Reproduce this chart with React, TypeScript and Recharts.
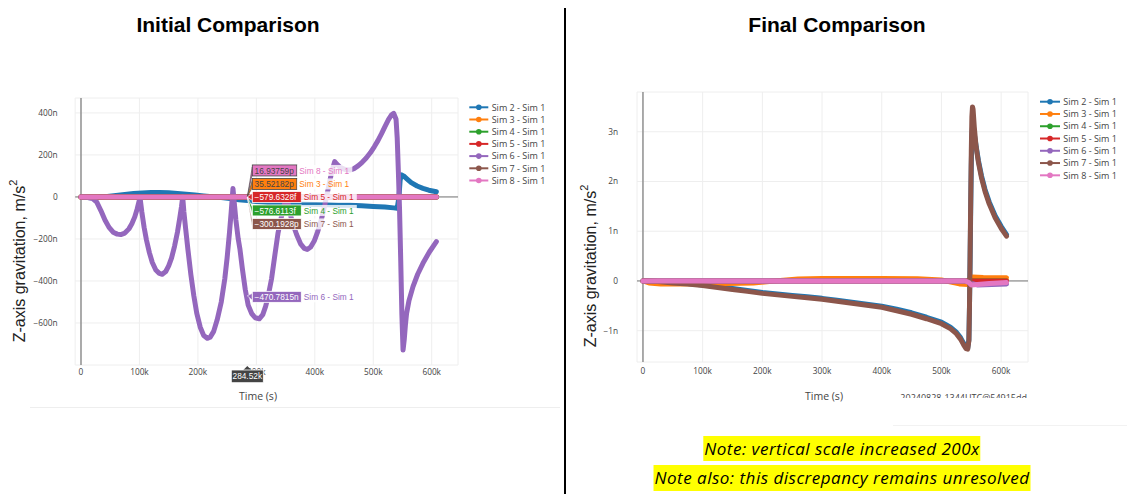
import React from 'react';
import { LineChart, Line, XAxis, YAxis, CartesianGrid, ReferenceLine, ReferenceDot } from 'recharts';

type Pt = [number, number];

// ---------- series meta ----------
const SERIES_NAMES = ['Sim 2 - Sim 1', 'Sim 3 - Sim 1', 'Sim 4 - Sim 1', 'Sim 5 - Sim 1', 'Sim 6 - Sim 1', 'Sim 7 - Sim 1', 'Sim 8 - Sim 1'];
const SERIES_COLORS = ['#1f77b4', '#ff7f0e', '#2ca02c', '#d62728', '#9467bd', '#8c564b', '#e377c2'];

// ---------- ticks ----------
const X_TICKS = [0, 100, 200, 300, 400, 500, 600]; // thousands of seconds
const LEFT_Y_TICKS = [-600, -400, -200, 0, 200, 400]; // n m/s²
const RIGHT_Y_TICKS = [-1, 0, 1, 2, 3]; // n m/s²

// ---------- Initial comparison (t in ks, value in n m/s²) ----------
const leftSim2: Pt[] = [[0,0],[10,-3],[20,-4],[30,-2],[45,2],[60,7],[75,12],[90,16],[105,19],[120,21],[135,21],[150,20],[165,17],[180,13],[195,9],[210,5],[225,1],[240,-3],[255,-8],[270,-13],[285,-17],[300,-22],[320,-27],[340,-30],[360,-32],[380,-34],[400,-36],[420,-37],[440,-39],[460,-40],[480,-42],[500,-45],[520,-48],[535,-52],[541,-54],[544,0],[546,80],[548,105],[552,100],[558,85],[565,68],[575,52],[585,41],[595,32],[608,25]];
const leftSim3: Pt[] = [[0,0],[150,0.02],[300,0.036],[450,0.02],[608,0.01]];
const leftSim4: Pt[] = [[0,0],[300,-0.0006],[608,0]];
const leftSim5: Pt[] = [[0,0],[300,-0.0006],[608,0]];
const leftSim6: Pt[] = [[0,0],[10,-2],[20,-8],[27,-25],[34,-65],[41,-110],[48,-145],[55,-168],[62,-177],[68,-179],[75,-172],[82,-152],[87,-128],[92,-95],[96,-58],[99,-25],[101,-3],
  [104,-70],[108,-145],[112,-205],[117,-265],[122,-312],[128,-348],[134,-364],[139,-368],[145,-355],[150,-328],[155,-290],[160,-235],[165,-168],[169,-100],[172,-45],[174,0],
  [176,-70],[179,-150],[183,-252],[188,-370],[193,-470],[198,-553],[204,-620],[210,-660],[216,-673],[221,-668],[227,-640],[233,-585],[240,-500],[246,-390],[250,-290],[254,-170],[257,-70],[260,40],
  [262,-20],[265,-110],[269,-200],[272,-250],[276,-340],[281,-440],[286,-515],[292,-555],[298,-575],[305,-580],[311,-560],[316,-520],[320,-475],[326,-390],[331,-290],[337,-173],[342,-105],[347,-45],[352,5],
  [357,-70],[362,-125],[369,-180],[376,-225],[382,-245],[387,-250],[393,-238],[399,-210],[405,-165],[411,-110],[417,-40],[423,40],[429,120],[434,168],
  [438,155],[443,142],[448,135],[454,129],[460,128],[467,135],[474,148],[481,165],[488,185],[495,210],[502,240],[508,268],[514,300],[520,335],[526,368],[531,390],[535,398],[539,370],[541,280],[543,120],[545,-60],[547,-300],[549,-560],[551,-729],[553,-680],[555,-610],[557,-555],[561,-495],[568,-427],[576,-368],[585,-316],[596,-262],[608,-213]];
const leftSim7: Pt[] = [[0,0],[150,-0.1],[300,-0.3],[450,-0.2],[608,0]];
const leftSim8: Pt[] = [[0,0],[150,0.01],[300,0.017],[450,0.01],[608,0]];

// ---------- Final comparison (t in ks, value in n m/s²) ----------
const rightSim2: Pt[] = [[0,0],[25,-0.01],[50,-0.03],[75,-0.05],[100,-0.08],[125,-0.11],[150,-0.15],[175,-0.19],[200,-0.23],[225,-0.26],[250,-0.29],[275,-0.32],[300,-0.35],[325,-0.39],[350,-0.43],[375,-0.47],[400,-0.51],[425,-0.57],[450,-0.64],[475,-0.73],[500,-0.83],[515,-0.93],[525,-1.03],[532,-1.14],[537,-1.25],[541,-1.33],[544,-1.35],[546,-1.18],[547,-0.5],[548,0.4],[549,1.4],[550,2.3],[551,2.9],[552,3.1],[553,3.1],[555,2.95],[558,2.72],[562,2.42],[567,2.12],[573,1.84],[580,1.59],[590,1.31],[600,1.1],[609,0.93]];
const rightSim3: Pt[] = [[0,0],[10,-0.04],[30,-0.06],[60,-0.06],[100,-0.055],[140,-0.05],[185,-0.04],[220,0],[260,0.04],[300,0.05],[400,0.05],[460,0.045],[500,0.02],[530,-0.06],[545,-0.07],[548,0.05],[552,0.08],[570,0.07],[609,0.065]];
const rightSim4: Pt[] = [[0,0],[300,0],[609,0]];
const rightSim5: Pt[] = [[0,0],[300,0],[609,0]];
const rightSim6: Pt[] = [[0,0],[300,0],[540,0],[550,-0.05],[560,-0.08],[609,-0.06]];
const rightSim7: Pt[] = [[0,0],[25,-0.01],[50,-0.04],[75,-0.06],[100,-0.09],[125,-0.13],[150,-0.17],[175,-0.21],[200,-0.25],[225,-0.28],[250,-0.31],[275,-0.34],[300,-0.37],[325,-0.41],[350,-0.45],[375,-0.49],[400,-0.53],[425,-0.6],[450,-0.67],[475,-0.76],[500,-0.86],[515,-0.96],[525,-1.06],[532,-1.17],[537,-1.28],[541,-1.36],[544,-1.37],[546,-1.2],[547,-0.5],[548,0.5],[549,1.6],[550,2.6],[551,3.3],[552,3.5],[553,3.45],[555,3.1],[558,2.7],[562,2.38],[567,2.08],[573,1.8],[580,1.55],[590,1.27],[600,1.06],[609,0.9]];
const rightSim8: Pt[] = [[0,0],[300,0],[540,0],[546,-0.03],[550,-0.08],[560,-0.07],[580,-0.05],[609,-0.03]];

const leftSeries = [leftSim2, leftSim3, leftSim4, leftSim5, leftSim6, leftSim7, leftSim8];
const rightSeries = [rightSim2, rightSim3, rightSim4, rightSim5, rightSim6, rightSim7, rightSim8];

// ---------- hover annotation (left chart) ----------
const HOVER_T = 284.52;
const hoverNames = ['Sim 8 - Sim 1', 'Sim 3 - Sim 1', 'Sim 5 - Sim 1', 'Sim 4 - Sim 1', 'Sim 7 - Sim 1'];
const hoverTexts = ['16.93759p', '35.52182p', '\u2212579.6328f', '\u2212576.6113f', '\u2212300.1928p'];
const hoverColorIdx = [6, 1, 3, 2, 5];
const hoverSim6Value = -470.7815;
const hoverSim6Text = '\u2212470.7815n';
const hoverXText = '284.52k';

const NOTE1 = 'Note: vertical scale increased 200x';
const NOTE2 = 'Note also: this discrepancy remains unresolved';
const WATERMARK = '20240828-1344UTC@54915dd';

const toRows = (pts: Pt[]) => pts.map(([t, v]) => ({ t, v }));
const fmtK = (v: number) => (v === 0 ? '0' : `${v}k`);
const fmtN = (v: number) => (v === 0 ? '0' : `${v < 0 ? '\u2212' : ''}${Math.abs(v)}n`);

const isLight = (hex: string) => {
  const r = parseInt(hex.slice(1, 3), 16), g = parseInt(hex.slice(3, 5), 16), b = parseInt(hex.slice(5, 7), 16);
  return 0.299 * r + 0.587 * g + 0.114 * b > 140;
};

const TICK_STYLE = { fontSize: 8.3, fill: '#444', fontFamily: 'Open Sans' };
const HOVER_FONT = 'Liberation Sans, Arial';

function HoverRow({ px, py, rowY, text, name, color }: any) {
  const light = isLight(color);
  const bx = px + 5;
  const w = text.length * 4.5 + 4;
  const h = 11;
  const border = light ? '#444' : '#fff';
  return (
    <g>
      <polygon points={`${px},${py} ${bx},${rowY - 3.5} ${bx},${rowY + 3.5}`} fill={color} stroke={border} strokeWidth={0.6} />
      <rect x={bx} y={rowY - h / 2} width={w} height={h} fill={color} stroke={border} strokeWidth={0.8} />
      <text x={bx + 2.3} y={rowY + 3.1} fontSize={8.3} fontFamily={HOVER_FONT} fill={light ? '#444' : '#fff'}>{text}</text>
      <rect x={bx + w + 0.5} y={rowY - h / 2} width={55} height={h} fill="#fff" fillOpacity={0.8} />
      <text x={bx + w + 2.5} y={rowY + 3.1} fontSize={8.3} fontFamily={HOVER_FONT} fill={color}>{name}</text>
    </g>
  );
}

const ROW_OFFSETS = [-26.5, -13, 0, 13.5, 27];

function HoverStackShape(props: any) {
  const { cx, cy } = props;
  return (
    <g>
      {hoverTexts.map((t, i) => (
        <HoverRow key={i} px={cx} py={cy} rowY={cy + ROW_OFFSETS[i]} text={t} name={hoverNames[i]} color={SERIES_COLORS[hoverColorIdx[i]]} />
      ))}
    </g>
  );
}

function HoverSim6Shape(props: any) {
  const { cx, cy } = props;
  return <HoverRow px={cx} py={cy} rowY={cy + 1} text={hoverSim6Text} name={SERIES_NAMES[4]} color={SERIES_COLORS[4]} />;
}

function HoverXShape(props: any) {
  const { cx, cy } = props;
  const w = 32, h = 12.7, top = cy + 5;
  return (
    <g>
      <polygon points={`${cx},${cy + 1} ${cx - 4},${top} ${cx + 4},${top}`} fill="#444" />
      <rect x={cx - w / 2} y={top} width={w} height={h} fill="#444" stroke="#fff" strokeWidth={0.8} />
      <text x={cx} y={top + h / 2 + 3} textAnchor="middle" fontSize={8.3} fontFamily={HOVER_FONT} fill="#fff">{hoverXText}</text>
    </g>
  );
}

function LegendBlock({ left, top, step, lineW, textX }: { left: number; top: number; step: number; lineW: number; textX: number }) {
  return (
    <svg style={{ position: 'absolute', left: 0, top: 0, pointerEvents: 'none' }} width={1127} height={494}>
      {SERIES_NAMES.map((n, i) => {
        const y = top + i * step;
        return (
          <g key={n}>
            <line x1={left} x2={left + lineW} y1={y} y2={y} stroke={SERIES_COLORS[i]} strokeWidth={2} />
            <circle cx={left + lineW / 2} cy={y} r={2.8} fill={SERIES_COLORS[i]} />
            <text x={textX} y={y + 3.2} fontSize={9} fontFamily="Open Sans" fill="#444">{n}</text>
          </g>
        );
      })}
    </svg>
  );
}

function renderLines(series: Pt[][]) {
  return series.map((s, i) => (
    <Line
      key={SERIES_NAMES[i]}
      data={toRows(s)}
      dataKey="v"
      name={SERIES_NAMES[i]}
      type="linear"
      stroke={SERIES_COLORS[i]}
      strokeWidth={5}
      strokeLinejoin="round"
      strokeLinecap="round"
      dot={false}
      activeDot={false}
      isAnimationActive={false}
    />
  ));
}

const LEFT_MARGIN = { top: 98, right: 107, bottom: 35, left: 35.15 };
const LEFT_X_DOMAIN: [number, number] = [-10, 645];
const LEFT_Y_DOMAIN: [number, number] = [-800, 471];

const NOTE_STYLE: React.CSSProperties = { background: '#ffff00', fontFamily: 'Open Sans', fontStyle: 'italic', fontSize: 17, letterSpacing: 0.5, display: 'inline-block', padding: '0 1px', color: '#000' };

export default function App() {
  return (
    <div style={{ position: 'absolute', left: 0, top: 0, width: 1127, height: 494, background: '#fff', overflow: 'hidden' }}>
      {/* Left chart */}
      <div style={{ position: 'absolute', left: 0, top: 0 }}>
        <LineChart width={565} height={420} margin={LEFT_MARGIN}>
          <CartesianGrid stroke="#eee" strokeWidth={1} />
          <XAxis type="number" dataKey="t" domain={LEFT_X_DOMAIN} ticks={X_TICKS} interval={0} tickFormatter={fmtK} allowDataOverflow axisLine={false} tickLine={false} tickSize={0} tickMargin={4} height={20} tick={TICK_STYLE} />
          <YAxis type="number" domain={LEFT_Y_DOMAIN} ticks={LEFT_Y_TICKS} interval={0} tickFormatter={fmtN} allowDataOverflow axisLine={false} tickLine={false} tickSize={0} tickMargin={17.5} width={40} tick={TICK_STYLE} />
          <ReferenceLine y={0} stroke="#777" strokeWidth={1} />
          <ReferenceLine x={0} stroke="#777" strokeWidth={1.2} />
          {renderLines(leftSeries)}
        </LineChart>
      </div>

      {/* Left chart hover labels (same scales, drawn above the lines) */}
      <div style={{ position: 'absolute', left: 0, top: 0 }}>
        <LineChart width={565} height={420} margin={LEFT_MARGIN}>
          <XAxis type="number" dataKey="t" domain={LEFT_X_DOMAIN} ticks={X_TICKS} allowDataOverflow axisLine={false} tickLine={false} tick={false} height={20} />
          <YAxis type="number" domain={LEFT_Y_DOMAIN} ticks={LEFT_Y_TICKS} allowDataOverflow axisLine={false} tickLine={false} tick={false} width={40} />
          <ReferenceDot x={HOVER_T} y={0} ifOverflow="visible" shape={HoverStackShape} />
          <ReferenceDot x={HOVER_T} y={hoverSim6Value} ifOverflow="visible" shape={HoverSim6Shape} />
          <ReferenceDot x={HOVER_T} y={LEFT_Y_DOMAIN[0]} ifOverflow="visible" shape={HoverXShape} />
        </LineChart>
      </div>

      {/* Right chart */}
      <div style={{ position: 'absolute', left: 566, top: 0 }}>
        <LineChart width={561} height={420} margin={{ top: 92, right: 99, bottom: 38, left: 31 }}>
          <CartesianGrid stroke="#eee" strokeWidth={1} />
          <XAxis type="number" dataKey="t" domain={[-10, 645]} ticks={X_TICKS} interval={0} tickFormatter={fmtK} allowDataOverflow axisLine={false} tickLine={false} tickSize={0} tickMargin={6} height={20} tick={TICK_STYLE} />
          <YAxis type="number" domain={[-1.63, 3.8]} ticks={RIGHT_Y_TICKS} interval={0} tickFormatter={fmtN} allowDataOverflow axisLine={false} tickLine={false} tickSize={0} tickMargin={19} width={40} tick={TICK_STYLE} />
          <ReferenceLine y={0} stroke="#777" strokeWidth={1} />
          <ReferenceLine x={0} stroke="#777" strokeWidth={1.2} />
          {renderLines(rightSeries)}
        </LineChart>
      </div>

      <LegendBlock left={469.3} top={107.3} step={12.2} lineW={19} textX={491.7} />
      <LegendBlock left={1040} top={101.7} step={12.27} lineW={20} textX={1063.3} />

      {/* Text overlay */}
      <svg style={{ position: 'absolute', left: 0, top: 0, pointerEvents: 'none' }} width={1127} height={494}>
        <defs>
          <clipPath id="wmclip"><rect x={880} y={388} width={160} height={10} /></clipPath>
        </defs>
        <text x={228} y={31.7} textAnchor="middle" fontSize={21} fontWeight="bold" fontFamily="Liberation Sans, Arial" fill="#000">Initial Comparison</text>
        <text x={837} y={31.7} textAnchor="middle" fontSize={21} fontWeight="bold" fontFamily="Liberation Sans, Arial" fill="#000">Final Comparison</text>
        <rect x={564} y={8} width={2} height={486} fill="#000" />
        <line x1={30} x2={560} y1={407.5} y2={407.5} stroke="#eee" strokeWidth={1} />
        <line x1={893} x2={1127} y1={425.5} y2={425.5} stroke="#f2f2f2" strokeWidth={1} />
        <text transform="translate(19,261) rotate(-90)" textAnchor="middle" dominantBaseline="central" fontSize={16} fontFamily="Liberation Sans, Arial" fill="#222">
          Z-axis gravitation, m/s<tspan fontSize={11} dy={-6}>2</tspan>
        </text>
        <text transform="translate(590,266) rotate(-90)" textAnchor="middle" dominantBaseline="central" fontSize={16} fontFamily="Liberation Sans, Arial" fill="#222">
          Z-axis gravitation, m/s<tspan fontSize={11} dy={-6}>2</tspan>
        </text>
        <text x={258} y={399.5} textAnchor="middle" fontSize={10.5} fontFamily="Open Sans" fill="#444">Time (s)</text>
        <text x={824} y={399.5} textAnchor="middle" fontSize={10.5} fontFamily="Open Sans" fill="#444">Time (s)</text>
        <text x={1027} y={401} textAnchor="end" fontSize={9} fontFamily="Open Sans" fill="#444" clipPath="url(#wmclip)">{WATERMARK}</text>
      </svg>

      {/* Notes */}
      <div style={{ position: 'absolute', left: 842, top: 436, transform: 'translateX(-50%)', whiteSpace: 'nowrap' }}>
        <span style={{ ...NOTE_STYLE, lineHeight: '25px' }}>{NOTE1}</span>
      </div>
      <div style={{ position: 'absolute', left: 842, top: 465, transform: 'translateX(-50%)', whiteSpace: 'nowrap' }}>
        <span style={{ ...NOTE_STYLE, lineHeight: '26px' }}>{NOTE2}</span>
      </div>
    </div>
  );
}
